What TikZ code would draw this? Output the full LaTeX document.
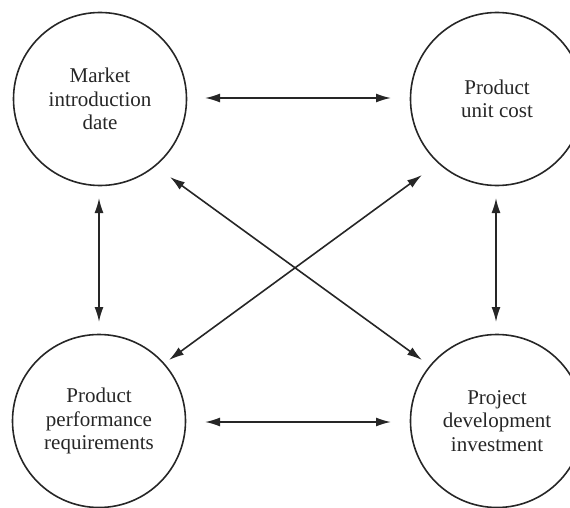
\documentclass[tikz,border=0pt]{standalone}
\usepackage{fontspec}
\setmainfont{Liberation Serif}
\usetikzlibrary{arrows.meta}
\begin{document}
\begin{tikzpicture}[x=1pt,y=-1pt,
  bubble/.style={circle,draw=black!85,line width=1.6pt,minimum size=173pt,inner sep=0pt,align=center,
    font=\fontsize{21}{23.5}\selectfont,text=black!85},
  link/.style={line width=1.6pt,draw=black!85,{Latex[length=15pt,width=9pt]}-{Latex[length=15pt,width=9pt]}}]
\useasboundingbox (0,0) rectangle (570,508);
\clip (0,0) rectangle (570,508);
\node[bubble] (mkt) at (100,99) {Market\\introduction\\date};
\node[bubble] (cost) at (497,99) {Product\\unit cost};
\node[bubble] (perf) at (99,421) {Product\\performance\\requirements};
\node[bubble] (inv) at (497,421) {Project\\development\\investment};
\coordinate (a1) at (205,98); \coordinate (a2) at (391,98);
\coordinate (b1) at (205,422); \coordinate (b2) at (391,422);
\coordinate (c1) at (99,198); \coordinate (c2) at (99,322);
\coordinate (d1) at (496,198); \coordinate (d2) at (496,322);
\coordinate (e1) at (170,177); \coordinate (e2) at (422,360);
\coordinate (f1) at (422,175); \coordinate (f2) at (169,360);
\draw[link] (a1) -- (a2);
\draw[link] (b1) -- (b2);
\draw[link] (c1) -- (c2);
\draw[link] (d1) -- (d2);
\draw[link] (e1) -- (e2);
\draw[link] (f1) -- (f2);
\end{tikzpicture}
\end{document}
